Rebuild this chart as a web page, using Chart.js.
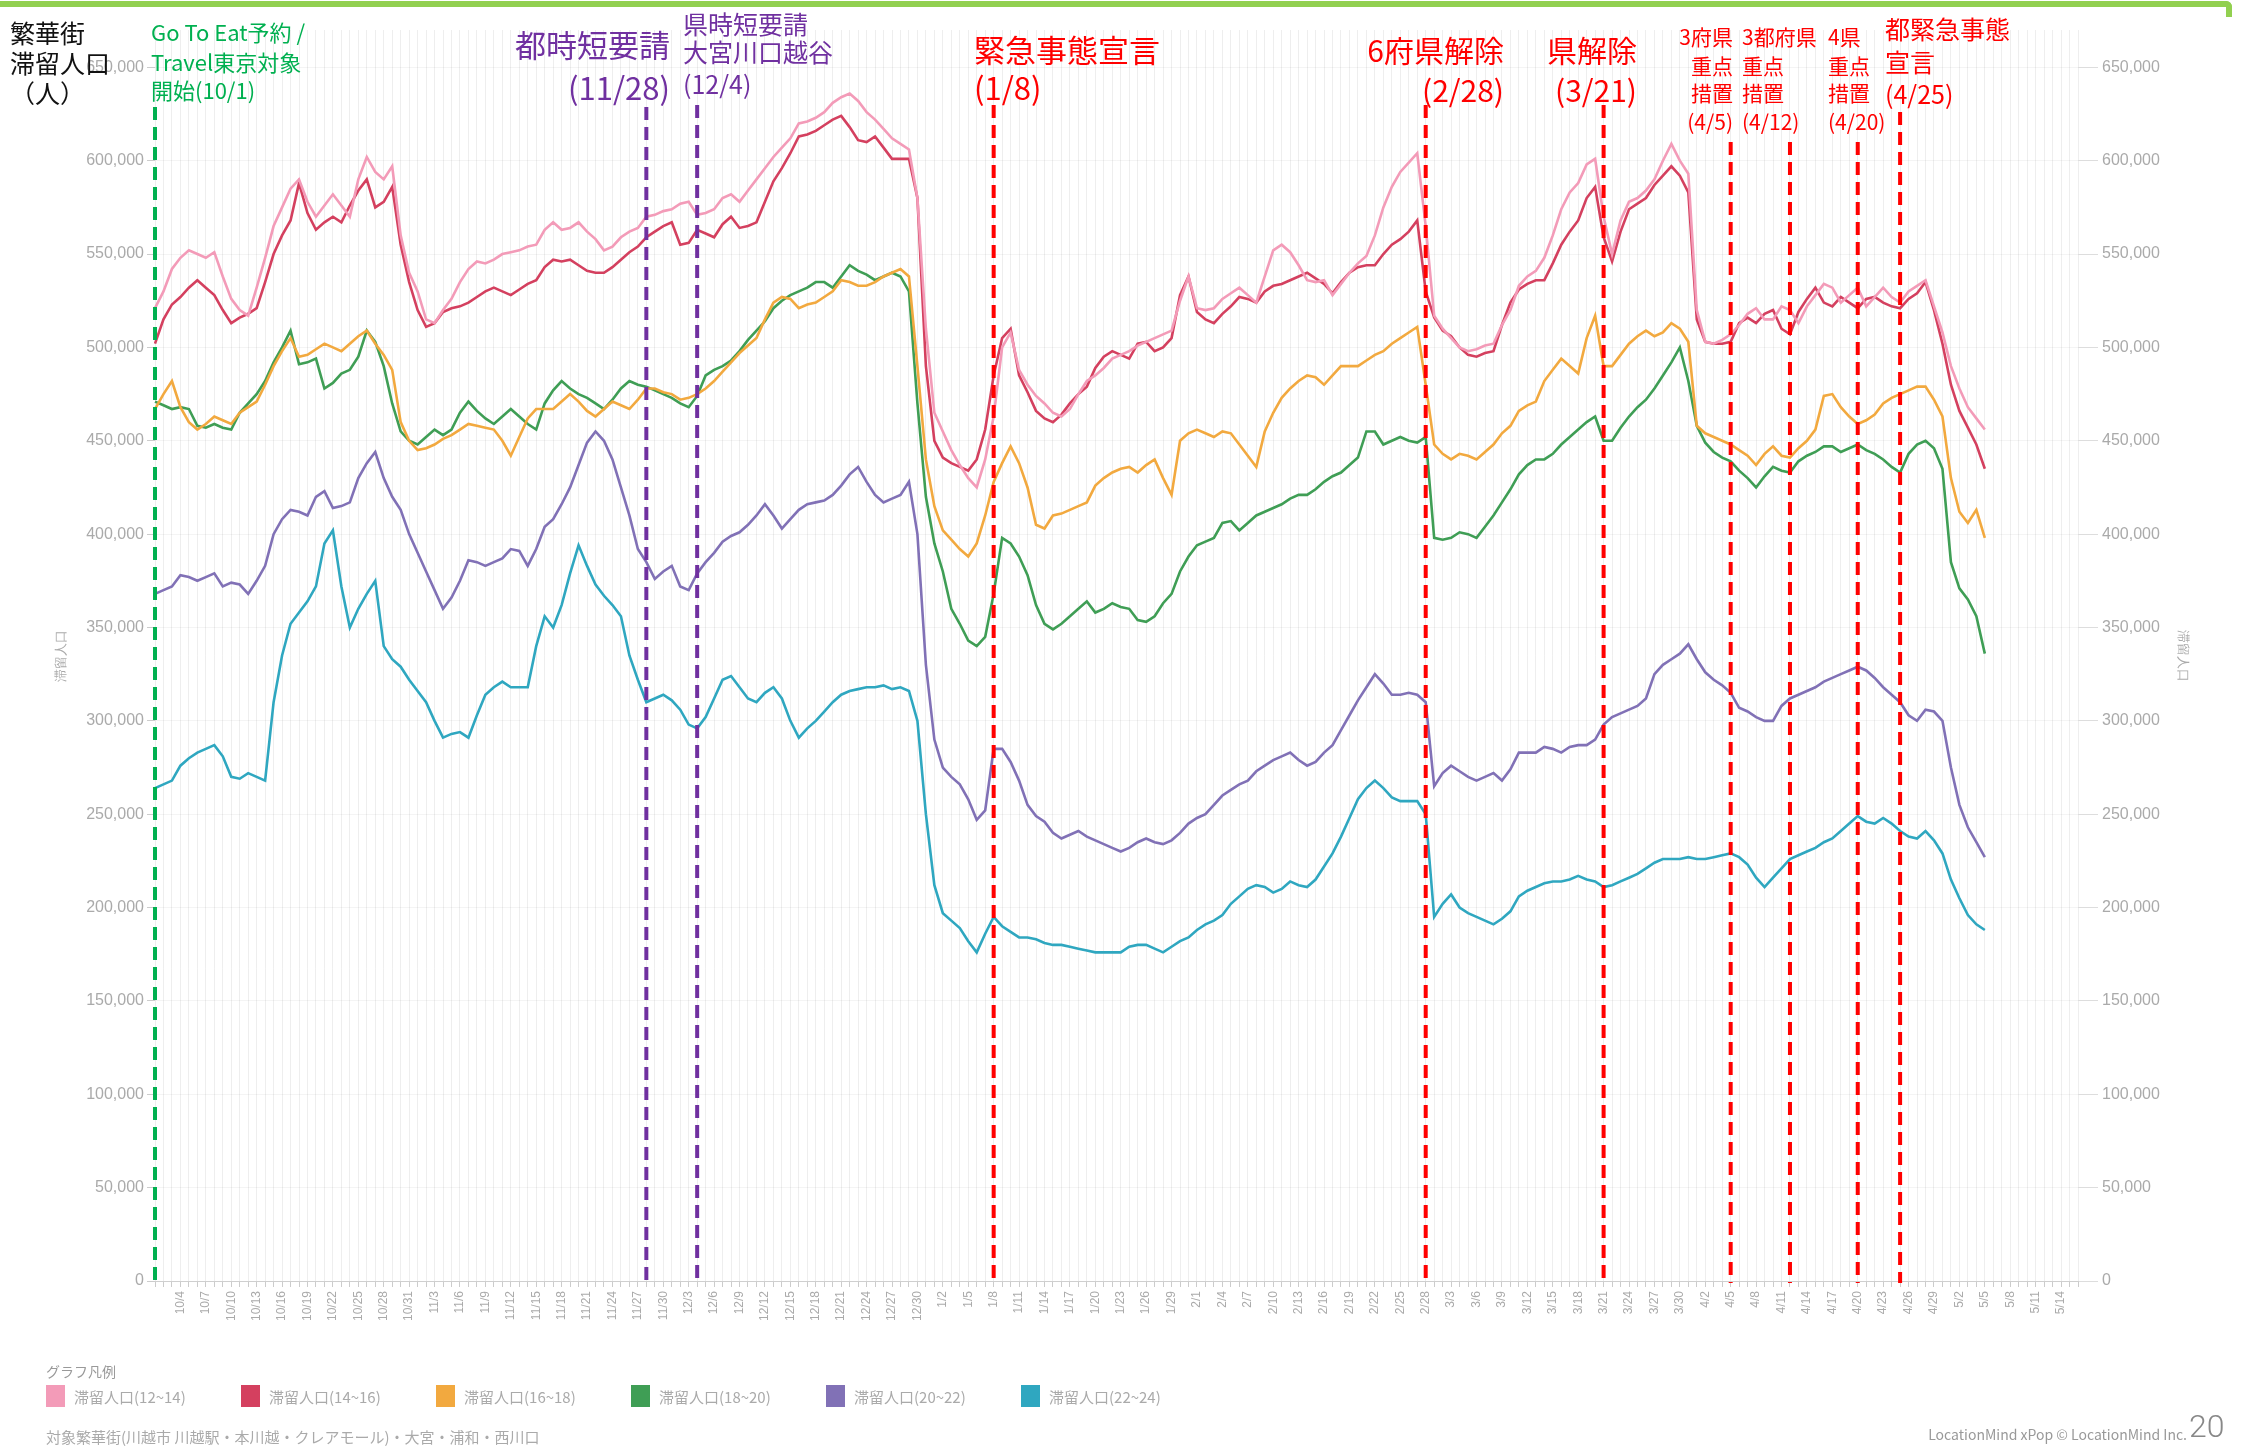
<!DOCTYPE html>
<html lang="ja">
<head>
<meta charset="utf-8">
<title>繁華街 滞留人口</title>
<script src="https://cdn.jsdelivr.net/npm/chart.js@4.4.1/dist/chart.umd.min.js"></script>
<style>
  html, body { margin: 0; padding: 0; background: #fff; }
  body { width: 2241px; height: 1447px; position: relative; overflow: hidden;
         font-family: "Noto Sans CJK JP", "Noto Sans", sans-serif; }
  #chart { position: absolute; left: 0; top: 0; }
  #frame { position: absolute; left: 0; top: 1px; width: 2226px; height: 10px;
           border-top: 6px solid #92d050; border-right: 6px solid #92d050; border-top-right-radius: 6px; }
  .note { position: absolute; white-space: nowrap; line-height: 1; }
  #ytitle { position: absolute; left: 10px; top: 17px; font-size: 25px; line-height: 30px; color: #111; }
  #legendTitle { position: absolute; left: 46px; top: 1361px; font-size: 14px; color: #999; }
  #legend { position: absolute; left: 46px; top: 1385px; display: flex; }
  .item { width: 195px; display: flex; align-items: center; font-size: 15px; color: #aaa; }
  .box { width: 19px; height: 22px; margin-right: 9px; }
  #footer { position: absolute; left: 46px; top: 1426px; font-size: 15px; color: #aaa; }
  #credit { position: absolute; right: 54px; top: 1424px; font-size: 14px; color: #999; }
  #page { position: absolute; left: 2189px; top: 1407px; font-size: 32px; color: #888; font-weight: 300;
          font-family: Roboto, "Noto Sans", sans-serif; }
</style>
</head>
<body>
<canvas id="chart" width="2241" height="1447"></canvas>
<div id="frame"></div>
<div id="ytitle">繁華街<br>滞留人口<br>（人）</div>
<div id="legendTitle">グラフ凡例</div>
<div id="legend"></div>
<div id="footer">対象繁華街(川越市 川越駅・本川越・クレアモール)・大宮・浦和・西川口</div>
<div id="credit">LocationMind xPop © LocationMind Inc.</div>
<div id="page">20</div>
<script>
// ========================================
// 繁華街 滞留人口 (daily, 2020/10/1 - 2021/5/16)
// ========================================

const START_DATE = new Date(2020, 9, 1);
const DAY_COUNT = 228;

// series names (legend)
const seriesNames = ['滞留人口(12~14)', '滞留人口(14~16)', '滞留人口(16~18)', '滞留人口(18~20)', '滞留人口(20~22)', '滞留人口(22~24)'];
const seriesColors = ['#f39bb8', '#d4405f', '#f2a93f', '#3f9e55', '#8171b6', '#2fa7c0'];

// values in thousands of people, one per day from 10/1
const s1214 = [
  521,530,542,548,552,550,548,551,538,526,
  520,517,532,548,565,575,585,590,578,570,
  576,582,576,570,590,602,594,590,597,560,
  540,530,515,513,520,526,535,542,546,545,
  547,550,551,552,554,555,563,567,563,564,
  567,562,558,552,554,559,562,564,570,571,
  573,574,577,578,571,572,574,580,582,578,
  584,590,596,602,607,612,620,621,623,626,
  631,634,636,632,626,622,617,612,609,606,
  580,510,465,455,445,437,430,425,440,463,
  500,508,488,480,474,470,465,463,467,475,
  482,485,489,494,496,498,501,503,505,507,
  509,525,538,521,520,521,526,529,532,528,
  524,538,552,555,551,544,536,535,536,528,
  534,540,545,549,560,575,586,594,599,604,
  565,517,510,505,500,498,499,501,502,512,
  520,533,538,541,548,560,574,583,588,598,
  601,570,550,568,578,580,584,590,600,609,
  600,593,520,503,502,504,507,512,518,521,
  515,515,522,520,513,522,528,534,532,524,
  528,532,522,527,532,527,524,530,533,536,
  522,508,490,478,468,462,456
];
const s1416 = [
  502,515,523,527,532,536,532,528,520,513,
  516,518,521,535,550,560,568,588,572,563,
  567,570,567,576,584,590,575,578,586,555,
  535,520,511,513,519,521,522,524,527,530,
  532,530,528,531,534,536,543,547,546,547,
  544,541,540,540,543,547,551,554,559,562,
  565,567,555,556,563,561,559,566,570,564,
  565,567,578,589,596,604,613,614,616,619,
  622,624,618,611,610,613,607,601,601,601,
  580,490,450,441,438,436,434,440,456,485,
  505,510,485,476,466,462,460,464,470,475,
  479,489,495,498,496,494,502,503,498,500,
  505,528,538,519,515,513,518,522,527,526,
  524,530,533,534,536,538,540,537,534,529,
  535,540,543,544,544,550,555,558,562,568,
  530,516,509,506,500,496,495,497,498,512,
  524,531,534,536,536,545,555,562,568,580,
  586,559,546,562,574,577,580,587,592,597,
  592,583,515,503,502,502,503,513,516,513,
  518,520,510,507,519,526,532,524,522,527,
  524,521,526,527,524,522,521,526,529,535,
  520,502,480,466,457,448,435
];
const s1618 = [
  467,475,482,468,460,456,459,463,461,459,
  465,468,471,480,490,498,505,495,496,499,
  502,500,498,502,506,509,502,496,488,460,
  450,445,446,448,451,453,456,459,458,457,
  456,450,442,452,462,467,467,467,471,475,
  471,466,463,467,471,469,467,472,478,478,
  476,475,472,473,475,478,482,487,492,497,
  501,505,515,524,527,526,521,523,524,527,
  530,536,535,533,533,535,538,540,542,538,
  490,440,415,402,397,392,388,395,410,428,
  438,447,438,425,405,403,410,411,413,415,
  417,426,430,433,435,436,433,437,440,430,
  421,450,454,456,454,452,455,454,448,442,
  436,455,465,473,478,482,485,484,480,485,
  490,490,490,493,496,498,502,505,508,511,
  480,448,443,440,443,442,440,444,448,454,
  458,466,469,471,482,488,494,490,486,505,
  517,490,490,496,502,506,509,506,508,513,
  510,503,458,454,452,450,448,445,442,437,
  443,447,442,441,446,450,456,474,475,468,
  463,459,461,464,470,473,475,477,479,479,
  472,463,430,412,406,413,398
];
const s1820 = [
  471,469,467,468,467,458,457,459,457,456,
  465,470,475,482,492,500,509,491,492,494,
  478,481,486,488,495,509,503,490,470,455,
  450,448,452,456,453,456,465,471,466,462,
  459,463,467,463,459,456,470,477,482,478,
  475,473,470,467,472,478,482,480,479,477,
  475,473,470,468,474,485,488,490,493,498,
  504,509,514,521,525,528,530,532,535,535,
  532,538,544,541,539,536,538,540,538,530,
  470,420,395,380,360,352,343,340,345,368,
  398,395,388,378,362,352,349,352,356,360,
  364,358,360,363,361,360,354,353,356,363,
  368,380,388,394,396,398,406,407,402,406,
  410,412,414,416,419,421,421,424,428,431,
  433,437,441,455,455,448,450,452,450,449,
  452,398,397,398,401,400,398,404,410,417,
  424,432,437,440,440,443,448,452,456,460,
  463,450,450,457,463,468,472,478,485,492,
  500,482,458,449,444,441,439,434,430,425,
  431,436,434,433,439,442,444,447,447,444,
  446,448,445,443,440,436,433,443,448,450,
  446,435,385,371,365,356,336
];
const s2022 = [
  368,370,372,378,377,375,377,379,372,374,
  373,368,375,383,400,408,413,412,410,420,
  423,414,415,417,430,438,444,430,420,413,
  400,390,380,370,360,366,375,386,385,383,
  385,387,392,391,383,392,404,408,416,425,
  437,449,455,450,440,425,410,392,385,376,
  380,383,372,370,379,385,390,396,399,401,
  405,410,416,410,403,408,413,416,417,418,
  421,426,432,436,428,421,417,419,421,428,
  400,330,290,275,270,266,258,247,252,285,
  285,278,268,255,249,246,240,237,239,241,
  238,236,234,232,230,232,235,237,235,234,
  236,240,245,248,250,255,260,263,266,268,
  273,276,279,281,283,279,276,278,283,287,
  295,303,311,318,325,320,314,314,315,314,
  310,265,272,276,273,270,268,270,272,268,
  274,283,283,283,286,285,283,286,287,287,
  290,298,302,304,306,308,312,325,330,333,
  336,341,333,326,322,319,315,307,305,302,
  300,300,308,312,314,316,318,321,323,325,
  327,329,327,323,318,314,310,303,300,306,
  305,300,275,255,243,235,227
];
const s2224 = [
  264,266,268,276,280,283,285,287,281,270,
  269,272,270,268,310,335,352,358,364,372,
  395,402,372,350,360,368,375,340,333,329,
  322,316,310,300,291,293,294,291,303,314,
  318,321,318,318,318,340,356,350,362,379,
  394,383,373,367,362,356,335,322,310,312,
  314,311,306,298,296,302,312,322,324,318,
  312,310,315,318,312,300,291,296,300,305,
  310,314,316,317,318,318,319,317,318,316,
  300,250,212,197,193,189,182,176,186,195,
  190,187,184,184,183,181,180,180,179,178,
  177,176,176,176,176,179,180,180,178,176,
  179,182,184,188,191,193,196,202,206,210,
  212,211,208,210,214,212,211,215,222,229,
  238,248,258,264,268,264,259,257,257,257,
  250,195,202,207,200,197,195,193,191,194,
  198,206,209,211,213,214,214,215,217,215,
  214,211,212,214,216,218,221,224,226,226,
  226,227,226,226,227,228,229,227,223,216,
  211,216,221,226,228,230,232,235,237,241,
  245,249,246,245,248,245,241,238,237,241,
  236,229,215,205,196,191,188
];
const seriesValues = [s1214, s1416, s1618, s1820, s2022, s2224];

// y axis (thousands): ticks every 50 up to 650, plot runs a little higher
const yMin = 0, yMax = 670, yStep = 50, yTopTick = 650;

// event dates (dashed lines)
const eventDates = ['10/1', '11/28', '12/4', '1/8', '2/28', '3/21', '4/5', '4/12', '4/20', '4/25'];
const eventColors = ['#00b050', '#7030a0', '#7030a0', '#ff0000', '#ff0000', '#ff0000', '#ff0000', '#ff0000', '#ff0000', '#ff0000'];
const eventLineTops = [107, 107, 105, 105, 105, 105, 142, 142, 142, 112];

// event notes: text, colour, font size, anchor side, x, centre y
const notes = [
  ['Go To Eat予約 /', '#00b050', 22, 'left', 151, 32],
  ['Travel東京対象', '#00b050', 22, 'left', 151, 62],
  ['開始(10/1)', '#00b050', 22, 'left', 151, 90],
  ['都時短要請', '#7030a0', 31, 'right', 670, 45],
  ['(11/28)', '#7030a0', 31, 'right', 670, 88],
  ['県時短要請', '#7030a0', 25, 'left', 683, 25],
  ['大宮川口越谷', '#7030a0', 25, 'left', 683, 53],
  ['(12/4)', '#7030a0', 25, 'left', 683, 85],
  ['緊急事態宣言', '#ff0000', 31, 'left', 974, 50],
  ['(1/8)', '#ff0000', 31, 'left', 974, 88],
  ['6府県解除', '#ff0000', 30, 'right', 1504, 50],
  ['(2/28)', '#ff0000', 30, 'right', 1504, 90],
  ['県解除', '#ff0000', 30, 'right', 1637, 50],
  ['(3/21)', '#ff0000', 30, 'right', 1637, 90],
  ['3府県', '#ff0000', 21, 'right', 1733, 38],
  ['重点', '#ff0000', 21, 'right', 1733, 67],
  ['措置', '#ff0000', 21, 'right', 1733, 94],
  ['(4/5)', '#ff0000', 21, 'right', 1733, 123],
  ['3都府県', '#ff0000', 21, 'left', 1742, 38],
  ['重点', '#ff0000', 21, 'left', 1742, 67],
  ['措置', '#ff0000', 21, 'left', 1742, 94],
  ['(4/12)', '#ff0000', 21, 'left', 1742, 123],
  ['4県', '#ff0000', 21, 'left', 1828, 38],
  ['重点', '#ff0000', 21, 'left', 1828, 67],
  ['措置', '#ff0000', 21, 'left', 1828, 94],
  ['(4/20)', '#ff0000', 21, 'left', 1828, 123],
  ['都緊急事態', '#ff0000', 25, 'left', 1885, 30],
  ['宣言', '#ff0000', 25, 'left', 1885, 63],
  ['(4/25)', '#ff0000', 25, 'left', 1885, 95]
];

// daily category labels
const labels = [];
for (let i = 0; i < DAY_COUNT; i++) {
  const d = new Date(START_DATE.getFullYear(), START_DATE.getMonth(), START_DATE.getDate() + i);
  labels.push(`${d.getMonth() + 1}/${d.getDate()}`);
}

// Dashed event lines, drawn through the x scale
const eventLinePlugin = {
  id: 'eventLines',
  afterDatasetsDraw(chart) {
    const ctx = chart.ctx;
    const x = chart.scales.x;
    const bottom = chart.chartArea.bottom;
    ctx.save();
    ctx.lineWidth = 4;
    ctx.setLineDash([13, 7]);
    eventDates.forEach((date, i) => {
      const px = x.getPixelForValue(labels.indexOf(date));
      ctx.strokeStyle = eventColors[i];
      ctx.beginPath();
      ctx.moveTo(px, eventLineTops[i]);
      ctx.lineTo(px, bottom + 2);
      ctx.stroke();
    });
    ctx.restore();
  }
};

const fmt = v => (v * 1000).toLocaleString('en-US');
const keepRoundTicks = s => { s.ticks = s.ticks.filter(t => t.value % yStep === 0 && t.value <= yTopTick); };

new Chart(document.getElementById('chart'), {
  type: 'line',
  data: {
    labels: labels,
    datasets: seriesNames.map((name, i) => ({
      label: name,
      data: seriesValues[i],
      borderColor: seriesColors[i],
      backgroundColor: seriesColors[i],
      borderWidth: 2.6,
      pointRadius: 0,
      tension: 0,
      yAxisID: 'y'
    }))
  },
  options: {
    responsive: false,
    animation: false,
    devicePixelRatio: 1,
    layout: { padding: { left: 50, right: 47, top: 30, bottom: 0 } },
    plugins: { legend: { display: false }, tooltip: { enabled: false } },
    scales: {
      x: {
        grid: { color: 'rgba(0,0,0,0.065)', tickLength: 6, tickColor: '#ccc' },
        border: { color: '#cfcfcf' },
        ticks: {
          autoSkip: false, maxRotation: 90, minRotation: 90, padding: 4,
          color: '#aaa', font: { size: 12 },
          callback: (v, i) => (i % 3 === 0 && i > 0) ? labels[i] : ''
        },
        afterFit: s => { s.height = 166; }
      },
      y: {
        position: 'left', min: yMin, max: yMax,
        grid: { color: 'rgba(0,0,0,0.045)', tickLength: 8, tickColor: '#ccc' },
        border: { display: false },
        ticks: { stepSize: yStep, color: '#aaa', font: { size: 16 }, padding: 3, callback: fmt },
        title: { display: true, text: '滞留人口', color: '#aaa', font: { size: 13 } },
        afterBuildTicks: keepRoundTicks,
        afterFit: s => { s.width = 105; }
      },
      y2: {
        position: 'right', min: yMin, max: yMax,
        grid: { drawOnChartArea: false, tickLength: 20, tickColor: '#ddd' },
        border: { display: false },
        ticks: { stepSize: yStep, color: '#aaa', font: { size: 16 }, padding: 4, callback: fmt },
        title: { display: true, text: '滞留人口', color: '#aaa', font: { size: 13 } },
        afterBuildTicks: keepRoundTicks,
        afterFit: s => { s.width = 116; }
      }
    }
  },
  plugins: [eventLinePlugin]
});

// Event notes
notes.forEach(([text, color, size, side, x, cy]) => {
  const el = document.createElement('div');
  el.className = 'note';
  el.textContent = text;
  el.style.color = color;
  el.style.fontSize = size + 'px';
  el.style.top = (cy - size * 0.55) + 'px';
  if (side === 'left') el.style.left = x + 'px';
  else el.style.right = (2241 - x) + 'px';
  document.body.appendChild(el);
});

// Legend
const legend = document.getElementById('legend');
seriesNames.forEach((name, i) => {
  legend.innerHTML += `<div class="item"><span class="box" style="background:${seriesColors[i]}"></span>${name}</div>`;
});
</script>
</body>
</html>
